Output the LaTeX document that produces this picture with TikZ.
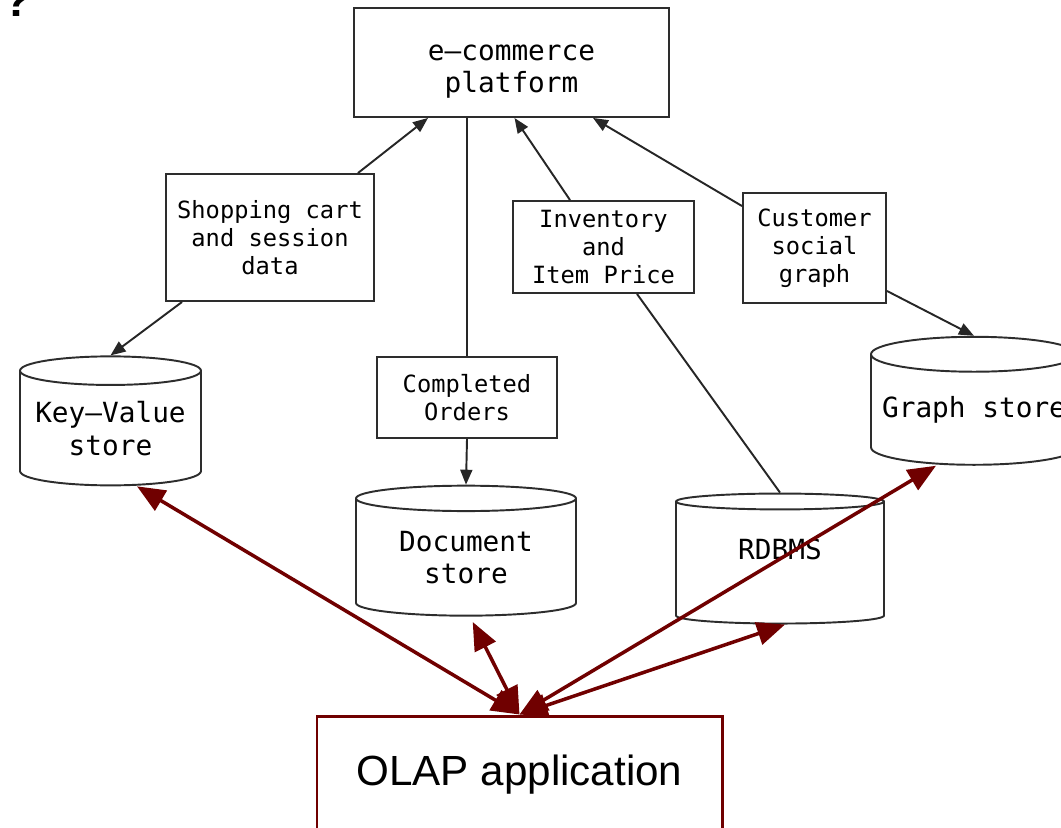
\documentclass[tikz,border=0pt]{standalone}
\usepackage{fontspec}
\newfontfamily\monofnt{DejaVu Sans Mono}
\newfontfamily\sansfnt{Liberation Sans}
\usetikzlibrary{shapes.geometric,arrows.meta}
\definecolor{olapred}{RGB}{112,0,0}
\definecolor{edgegray}{RGB}{45,45,45}
\newcommand{\bigmono}{\monofnt\fontsize{15.8}{18.6}\selectfont}
\newcommand{\smallmono}{\monofnt\fontsize{13.5}{15.9}\selectfont}

\begin{document}
\begin{tikzpicture}[
    box/.style={draw=edgegray, line width=1.1pt, fill=white, align=center, inner sep=0pt, font=\smallmono},
    store/.style={cylinder, shape border rotate=90, aspect=0.19, draw=edgegray, line width=1.1pt, fill=white, align=center, inner sep=0pt, font=\bigmono},
    flow/.style={draw=black!85, line width=1.1pt, -{Triangle[length=0.3cm,width=0.24cm]}},
    link/.style={draw=black!85, line width=1.1pt},
    olaplink/.style={draw=olapred, line width=2pt, {Triangle[length=0.56cm,width=0.46cm]}-{Triangle[length=0.56cm,width=0.46cm]}}]
\useasboundingbox (0,0) rectangle (21.22,-16.54);
\node[font=\sansfnt\bfseries\fontsize{26}{26}\selectfont, anchor=base] (qmark) at (0.34,-0.33) {?};
% boxes
\node[box, font=\bigmono, minimum width=6.3cm, minimum height=2.18cm] (platform) at (10.23,-1.25) {\rule{0pt}{0.68cm}e–commerce\\platform};
\node[box, minimum width=4.16cm, minimum height=2.54cm] (shop) at (5.40,-4.75) {Shopping cart\\and session\\data};
\node[box, minimum width=3.6cm, minimum height=1.62cm] (orders) at (9.34,-7.95) {Completed\\Orders};
\node[box, minimum width=3.62cm, minimum height=1.84cm] (inv) at (12.07,-4.94) {Inventory\\and\\Item Price};
\node[box, minimum width=2.86cm, minimum height=2.2cm] (cust) at (16.29,-4.96) {Customer\\social\\graph};
% stores
\node[store, minimum width=3.62cm, minimum height=2.58cm] (kv) at (2.21,-8.57) {Key–Value\\store};
\node[store, minimum width=4.4cm, minimum height=2.6cm] (doc) at (9.32,-11.15) {Document\\store};
\node[store, minimum width=4.16cm, minimum height=2.6cm] (rdb) at (15.6,-11.26) {RDBMS\rule[-0.55cm]{0pt}{0.55cm}};
\node[store, minimum width=4.12cm, minimum height=2.56cm] (graph) at (19.48,-8.2) {Graph store};
\node[draw=olapred, line width=1.7pt, minimum width=8.1cm, minimum height=2.36cm, font=\sansfnt\fontsize{24}{28}\selectfont] (olap) at (10.39,-15.5) {OLAP application};
% black connectors
\draw[flow] ([xshift=-0.34cm]shop.north east) -- ([xshift=-1.67cm]platform.south);
\draw[flow] ([xshift=0.34cm]shop.south west) -- (kv.north);
\draw[link] (orders.north |- platform.south) -- (orders.north);
\draw[flow] (orders.south) -- (doc.north);
\draw[flow] ([xshift=-0.67cm]inv.north) -- ([xshift=0.06cm]platform.south);
\draw[link] ([xshift=0.67cm]inv.south) -- (rdb.north);
\draw[flow] ([yshift=-0.28cm]cust.north west) -- ([xshift=1.63cm]platform.south);
\draw[flow] ([yshift=0.26cm]cust.south east) -- (graph.north);
% red connectors
\draw[olaplink] ([xshift=0.53cm]kv.south) -- (olap.north);
\draw[olaplink, shorten <=0.12cm] ([xshift=0.08cm]doc.south) -- (olap.north);
\draw[olaplink] ([xshift=0.1cm]rdb.south) -- (olap.north);
\draw[olaplink] ([xshift=-0.76cm]graph.south) -- (olap.north);
\end{tikzpicture}
\end{document}
